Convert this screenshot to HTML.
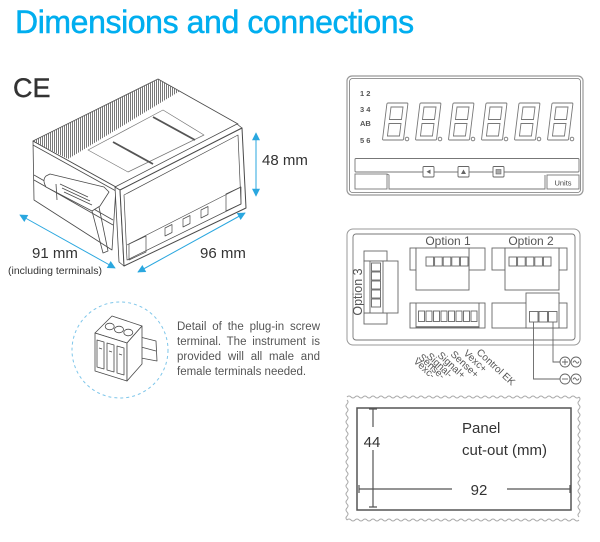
<!DOCTYPE html>
<html><head><meta charset="utf-8">
<style>
html,body{margin:0;padding:0;background:#fff;}
body{width:600px;height:542px;position:relative;overflow:hidden;font-family:"Liberation Sans",sans-serif;}
svg{position:absolute;left:0;top:0;}
.p{position:absolute;left:177px;width:143px;font-size:11.5px;line-height:15px;height:15px;color:#555;text-align:justify;text-align-last:justify;}
</style></head><body>
<svg width="600" height="542" viewBox="0 0 600 542" xmlns="http://www.w3.org/2000/svg" font-family="Liberation Sans, sans-serif">
<defs>
<pattern id="hp" width="2" height="4" patternUnits="userSpaceOnUse"><rect width="0.9" height="4" fill="#6a6a6a"/></pattern>
<marker id="ar" viewBox="0 0 10 10" refX="9" refY="5" markerWidth="9" markerHeight="8" markerUnits="userSpaceOnUse" orient="auto-start-reverse"><path d="M0,0 L10,5 L0,10 z" fill="#2aa7df"/></marker>
</defs>

<!-- Title -->
<text x="15" y="33" font-size="32" letter-spacing="-0.4" fill="#00aeef" stroke="#00aeef" stroke-width="0.5">Dimensions and connections</text>

<!-- CE -->
<text x="13" y="97" font-size="27" fill="#333" stroke="#333" stroke-width="0.4">CE</text>

<!-- Device -->
<g stroke="#4a4a4a" stroke-width="0.8" fill="#fff" stroke-linejoin="round">
  <polygon points="33,141 116,187 112,250 34,200"/>
  <line x1="33" y1="145" x2="116" y2="191"/>
  <line x1="34" y1="175" x2="113" y2="220"/>
  <line x1="34" y1="180" x2="113" y2="225"/>
  <polygon points="33,141 158,79 238,124 116,187"/>
  <polygon points="33,141 158,79 180,91 68,159" fill="url(#hp)" stroke="none"/>
  <polygon points="88,150 163,110 204,135 128,172" fill="#fff" stroke="#777" stroke-width="0.7"/>
  <line x1="113" y1="142" x2="153" y2="164" stroke="#555" stroke-width="1.8"/>
  <line x1="153" y1="117" x2="195" y2="140" stroke="#555" stroke-width="1.8"/>
  <!-- clip -->
  <path d="M46,176 Q42,180 46,187 L92,211 L100,206 L109,192 L104,187 L50,174 Z"/>
  <line x1="60" y1="184" x2="88" y2="197"/>
  <line x1="62" y1="188" x2="90" y2="201"/>
  <line x1="64" y1="192" x2="92" y2="205"/>
  <line x1="56" y1="184" x2="57" y2="200"/>
  <path d="M92,211 L103,253 L108,251 L99,207" fill="none"/>
  <!-- bezel -->
  <polygon points="115,187 120,190 124,266 119,262"/>
  <polygon points="115,187 237,124 242,128 120,190"/>
  <polygon points="120,190 242,128 246,208 124,266" stroke-width="1"/>
  <polygon points="124,195 238,135 241,204 127,260" fill="none" stroke-width="0.7"/>
  <line x1="127" y1="245" x2="241" y2="187" stroke-width="0.7"/>
  <polygon points="129,244 146,236 146,252 129,260" fill="none" stroke-width="0.7"/>
  <polygon points="226,194 241,187 241,204 226,211" fill="none" stroke-width="0.7"/>
  <polygon points="165,228 172,224.5 172,232.5 165,236" stroke-width="0.7"/>
  <polygon points="183,219 190,215.5 190,223.5 183,227" stroke-width="0.7"/>
  <polygon points="201,210 208,206.5 208,214.5 201,218" stroke-width="0.7"/>
</g>

<!-- dimension arrows -->
<g stroke="#2aa7df" stroke-width="1">
  <line x1="256" y1="133" x2="256" y2="196" marker-start="url(#ar)" marker-end="url(#ar)"/>
  <line x1="138" y1="272" x2="245" y2="213" marker-start="url(#ar)" marker-end="url(#ar)"/>
  <line x1="20" y1="215" x2="115" y2="268" marker-start="url(#ar)" marker-end="url(#ar)"/>
</g>
<g fill="#333" font-size="15">
  <text x="262" y="165">48 mm</text>
  <text x="200" y="258">96 mm</text>
  <text x="32" y="258">91 mm</text>
  <text x="8" y="274" font-size="10.5">(including terminals)</text>
</g>

<!-- detail circle -->
<circle cx="120" cy="350" r="48" fill="none" stroke="#7ec6ea" stroke-width="1" stroke-dasharray="3,3"/>
<g stroke="#4a4a4a" stroke-width="0.8" fill="#fff" stroke-linejoin="round">
  <polygon points="140,337 156,341 157,361 141,358"/>
  <line x1="141" y1="347" x2="156" y2="351"/>
  <polygon points="95,333 112,316 142,326 127,343"/>
  <polygon points="95,333 127,343 127,381 95,371"/>
  <polygon points="127,343 142,326 142,364 127,381"/>
  <ellipse cx="109.7" cy="326.5" rx="4.5" ry="3.3"/>
  <ellipse cx="119" cy="329.5" rx="4.5" ry="3.3"/>
  <ellipse cx="128.3" cy="332.5" rx="4.5" ry="3.3"/>
  <polygon points="97,340 104,342 104,369 97,367"/>
  <polygon points="107,343 114,345 114,372 107,370"/>
  <polygon points="117,346 124,348 124,375 117,373"/>
  <line x1="99" y1="348" x2="102" y2="349"/>
  <line x1="109" y1="351" x2="112" y2="352"/>
  <line x1="119" y1="354" x2="122" y2="355"/>
</g>

<!-- front panel -->
<g fill="none">
  <rect x="347" y="76" width="236" height="119" rx="5" stroke="#999" stroke-width="1.2"/>
  <rect x="349.5" y="78.5" width="231" height="114" rx="3" stroke="#777" stroke-width="0.8"/>
</g>
<g font-size="7.5" font-weight="bold" fill="#555">
  <text x="360" y="96">1 2</text>
  <text x="360" y="112">3 4</text>
  <text x="360" y="126">AB</text>
  <text x="360" y="143">5 6</text>
</g>
<g fill="none" stroke="#777" stroke-width="0.9">
  <g transform="translate(387,103) skewX(-7)"><rect width="21" height="37" rx="1"/><rect x="4.5" y="4" width="12" height="12.5"/><rect x="4.5" y="20.5" width="12" height="12.5"/></g>
  <g transform="translate(420,103) skewX(-7)"><rect width="21" height="37" rx="1"/><rect x="4.5" y="4" width="12" height="12.5"/><rect x="4.5" y="20.5" width="12" height="12.5"/></g>
  <g transform="translate(453,103) skewX(-7)"><rect width="21" height="37" rx="1"/><rect x="4.5" y="4" width="12" height="12.5"/><rect x="4.5" y="20.5" width="12" height="12.5"/></g>
  <g transform="translate(486,103) skewX(-7)"><rect width="21" height="37" rx="1"/><rect x="4.5" y="4" width="12" height="12.5"/><rect x="4.5" y="20.5" width="12" height="12.5"/></g>
  <g transform="translate(519,103) skewX(-7)"><rect width="21" height="37" rx="1"/><rect x="4.5" y="4" width="12" height="12.5"/><rect x="4.5" y="20.5" width="12" height="12.5"/></g>
  <g transform="translate(552,103) skewX(-7)"><rect width="21" height="37" rx="1"/><rect x="4.5" y="4" width="12" height="12.5"/><rect x="4.5" y="20.5" width="12" height="12.5"/></g>
  <circle cx="407" cy="139" r="1.8"/><circle cx="440" cy="139" r="1.8"/><circle cx="473" cy="139" r="1.8"/>
  <circle cx="506" cy="139" r="1.8"/><circle cx="539" cy="139" r="1.8"/><circle cx="572" cy="139" r="1.8"/>
</g>
<g fill="none" stroke="#777" stroke-width="0.9">
  <rect x="355" y="158.5" width="224" height="13.5" rx="1"/>
  <rect x="355" y="174" width="32" height="15"/>
  <path d="M387,174 L389,175 L389,189 L545,189 L545,175"/>
  <rect x="547" y="175" width="32" height="14"/>
</g>
<g stroke="#666" stroke-width="0.9" fill="#fff">
  <rect x="423" y="166.5" width="11" height="10.5" rx="1"/>
  <rect x="458" y="166.5" width="11" height="10.5" rx="1"/>
  <rect x="493" y="166.5" width="11" height="10.5" rx="1"/>
</g>
<polygon points="426.5,171.7 430.5,169.5 430.5,174" fill="#666"/>
<polygon points="461,174 463.5,169.5 466,174" fill="#666"/>
<rect x="496" y="169.5" width="5" height="4.5" fill="#aaa" stroke="#666" stroke-width="0.6"/>
<text x="563" y="185.5" font-size="7.5" fill="#444" text-anchor="middle">Units</text>

<!-- connection diagram -->
<g fill="none">
  <rect x="347" y="229" width="233" height="116" rx="6" stroke="#999" stroke-width="1"/>
  <rect x="353" y="234" width="222" height="106" rx="3" stroke="#777" stroke-width="0.9"/>
</g>
<g font-size="12" fill="#555" text-anchor="middle">
  <text x="448" y="245">Option 1</text>
  <text x="531" y="245">Option 2</text>
  <text transform="translate(362,292) rotate(-90)" font-size="12.5">Option 3</text>
</g>
<g fill="#fff" stroke="#666" stroke-width="0.9">
  <!-- option 3 -->
  <rect x="364" y="251" width="23" height="10"/>
  <rect x="364" y="313" width="23" height="11"/>
  <rect x="364" y="261" width="34" height="52"/>
  <line x1="370" y1="261" x2="370" y2="313"/>
  <line x1="383" y1="261" x2="383" y2="313"/>
  <rect x="371.5" y="263" width="9" height="8"/>
  <rect x="371.5" y="272" width="9" height="8"/>
  <rect x="371.5" y="281" width="9" height="8"/>
  <rect x="371.5" y="290" width="9" height="8"/>
  <rect x="371.5" y="299" width="9" height="8"/>
  <!-- option 1 -->
  <rect x="410" y="248" width="6" height="22"/>
  <rect x="469" y="248" width="16" height="22"/>
  <rect x="416" y="248" width="53" height="42"/>
  <rect x="426" y="257" width="7.6" height="9"/>
  <rect x="434.6" y="257" width="7.6" height="9"/>
  <rect x="443.2" y="257" width="7.6" height="9"/>
  <rect x="451.8" y="257" width="7.6" height="9"/>
  <rect x="460.4" y="257" width="7.6" height="9"/>
  <!-- option 2 -->
  <rect x="492" y="248" width="13" height="22"/>
  <rect x="559" y="248" width="8" height="22"/>
  <rect x="505" y="248" width="54" height="42"/>
  <rect x="509" y="257" width="7.6" height="9"/>
  <rect x="517.6" y="257" width="7.6" height="9"/>
  <rect x="526.2" y="257" width="7.6" height="9"/>
  <rect x="534.8" y="257" width="7.6" height="9"/>
  <rect x="543.4" y="257" width="7.6" height="9"/>
  <!-- bottom left 8 pin -->
  <rect x="410" y="303" width="75" height="25"/>
  <line x1="416" y1="303" x2="416" y2="328"/>
  <line x1="479" y1="303" x2="479" y2="328"/>
  <line x1="416" y1="327" x2="479" y2="327" stroke-width="1.4"/>
  <rect x="418.5" y="311" width="6" height="10.5"/>
  <rect x="426" y="311" width="6" height="10.5"/>
  <rect x="433.5" y="311" width="6" height="10.5"/>
  <rect x="441" y="311" width="6" height="10.5"/>
  <rect x="448.5" y="311" width="6" height="10.5"/>
  <rect x="456" y="311" width="6" height="10.5"/>
  <rect x="463.5" y="311" width="6" height="10.5"/>
  <rect x="471" y="311" width="6" height="10.5"/>
  <!-- bottom right power -->
  <rect x="492" y="303" width="75" height="25"/>
  <rect x="526" y="293" width="33" height="35"/>
  <rect x="529.5" y="311.5" width="8.5" height="10.5"/>
  <rect x="539" y="311.5" width="8.5" height="10.5"/>
  <rect x="548.5" y="311.5" width="8.5" height="10.5"/>
</g>
<g fill="none" stroke="#666" stroke-width="0.9">
  <path d="M533.5,322 V379 H560"/>
  <path d="M553,322 V362 H560"/>
  <circle cx="565" cy="362" r="5"/><circle cx="576" cy="362" r="5"/>
  <circle cx="565" cy="379" r="5"/><circle cx="576" cy="379" r="5"/>
  <path d="M562,362 H568 M565,359 V365"/>
  <path d="M562,379 H568"/>
  <path d="M573,362.5 Q574.5,359.5 576,362 T579,361.5"/>
  <path d="M573,379.5 Q574.5,376.5 576,379 T579,378.5"/>
</g>
<g font-size="10" fill="#555">
  <text transform="translate(413,362) rotate(43)">Vexc-</text>
  <text transform="translate(418,358) rotate(43)">Sense-</text>
  <text transform="translate(426,357) rotate(43)">Signal-</text>
  <text transform="translate(437,356) rotate(43)">Signal+</text>
  <text transform="translate(450,355) rotate(43)">Sense+</text>
  <text transform="translate(463,354) rotate(43)">Vexc+</text>
  <text transform="translate(476,353) rotate(43)">Control EK</text>
</g>

<!-- panel cutout -->
<g fill="none" stroke="#aaa" stroke-width="1">
<path d="M347,397 q2,-2 4,0 t4,0 t4,0 t4,0 t4,0 t4,0 t4,0 t4,0 t4,0 t4,0 t4,0 t4,0 t4,0 t4,0 t4,0 t4,0 t4,0 t4,0 t4,0 t4,0 t4,0 t4,0 t4,0 t4,0 t4,0 t4,0 t4,0 t4,0 t4,0 t4,0 t4,0 t4,0 t4,0 t4,0 t4,0 t4,0 t4,0 t4,0 t4,0 t4,0 t4,0 t4,0 t4,0 t4,0 t4,0 t4,0 t4,0 t4,0 t4,0 t4,0 t4,0 t4,0 t4,0 t4,0 t4,0 t4,0 t4,0 t4,0"/>
<path d="M579,397 q2,2 0,4 t0,4 t0,4 t0,4 t0,4 t0,4 t0,4 t0,4 t0,4 t0,4 t0,4 t0,4 t0,4 t0,4 t0,4 t0,4 t0,4 t0,4 t0,4 t0,4 t0,4 t0,4 t0,4 t0,4 t0,4 t0,4 t0,4 t0,4 t0,4 t0,4"/>
<path d="M579,520 q-2,2 -4,0 t-4,0 t-4,0 t-4,0 t-4,0 t-4,0 t-4,0 t-4,0 t-4,0 t-4,0 t-4,0 t-4,0 t-4,0 t-4,0 t-4,0 t-4,0 t-4,0 t-4,0 t-4,0 t-4,0 t-4,0 t-4,0 t-4,0 t-4,0 t-4,0 t-4,0 t-4,0 t-4,0 t-4,0 t-4,0 t-4,0 t-4,0 t-4,0 t-4,0 t-4,0 t-4,0 t-4,0 t-4,0 t-4,0 t-4,0 t-4,0 t-4,0 t-4,0 t-4,0 t-4,0 t-4,0 t-4,0 t-4,0 t-4,0 t-4,0 t-4,0 t-4,0 t-4,0 t-4,0 t-4,0 t-4,0 t-4,0 t-4,0"/>
<path d="M347,520 q-2,-2 0,-4 t0,-4 t0,-4 t0,-4 t0,-4 t0,-4 t0,-4 t0,-4 t0,-4 t0,-4 t0,-4 t0,-4 t0,-4 t0,-4 t0,-4 t0,-4 t0,-4 t0,-4 t0,-4 t0,-4 t0,-4 t0,-4 t0,-4 t0,-4 t0,-4 t0,-4 t0,-4 t0,-4 t0,-4 t0,-4"/>
</g>
<rect x="357" y="408" width="214" height="102" fill="none" stroke="#555" stroke-width="1.5"/>
<g stroke="#555" stroke-width="1.2" fill="none">
  <path d="M373,409 V427 M373,450 V507 M369,409 H377 M369,507 H377"/>
  <path d="M359,489 H452 M507,489 H570 M359,485 V493 M570,485 V493"/>
</g>
<g fill="#333" font-size="15">
  <text x="372" y="447" text-anchor="middle">44</text>
  <text x="479" y="495" text-anchor="middle">92</text>
  <text x="462" y="433">Panel</text>
  <text x="462" y="455">cut-out (mm)</text>
</g>
</svg>
<div class="p" style="top:320px">Detail of the plug-in screw</div>
<div class="p" style="top:335px">terminal. The instrument is</div>
<div class="p" style="top:350px">provided will all male and</div>
<div class="p" style="top:365px;text-align:left;text-align-last:left;">female terminals needed.</div>
</body></html>
